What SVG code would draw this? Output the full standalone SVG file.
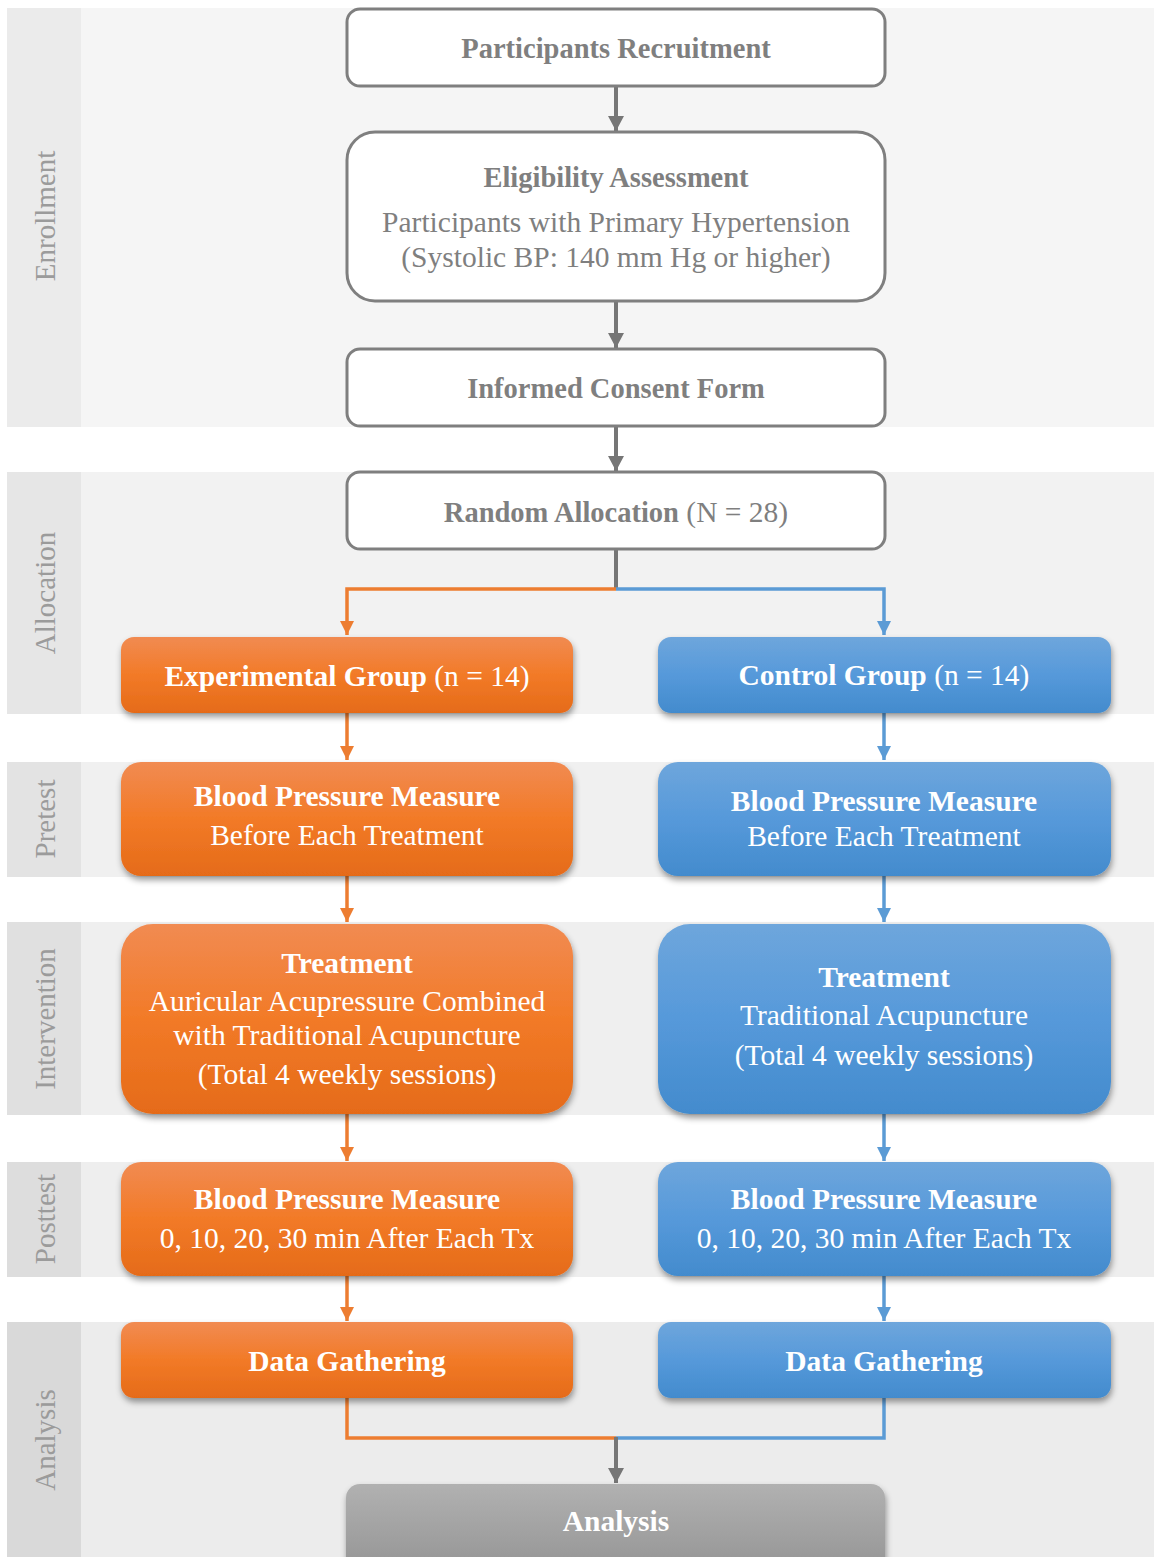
<svg xmlns="http://www.w3.org/2000/svg" width="1154" height="1557" viewBox="0 0 1154 1557">
<defs>
<linearGradient id="gOr" x1="0" y1="0" x2="0" y2="1">
<stop offset="0" stop-color="#F18B52"/><stop offset="0.5" stop-color="#F27A27"/><stop offset="1" stop-color="#E56B19"/>
</linearGradient>
<linearGradient id="gBl" x1="0" y1="0" x2="0" y2="1">
<stop offset="0" stop-color="#6EA6DC"/><stop offset="0.5" stop-color="#5699DA"/><stop offset="1" stop-color="#438BCD"/>
</linearGradient>
<linearGradient id="gGr" x1="0" y1="0" x2="0" y2="1">
<stop offset="0" stop-color="#B1B1B1"/><stop offset="1" stop-color="#949494"/>
</linearGradient>
<filter id="sh" x="-10%" y="-20%" width="120%" height="150%">
<feDropShadow dx="1" dy="4" stdDeviation="3" flood-color="#000" flood-opacity="0.4"/>
</filter>
<marker id="aGr" markerUnits="userSpaceOnUse" markerWidth="18" markerHeight="18" refX="15" refY="8" orient="auto"><path d="M0,0 L15,8 L0,16 Z" fill="#767676"/></marker>
<marker id="aOr" markerUnits="userSpaceOnUse" markerWidth="16" markerHeight="16" refX="14" refY="7" orient="auto"><path d="M0,0 L14,7 L0,14 Z" fill="#ED7D31"/></marker>
<marker id="aBl" markerUnits="userSpaceOnUse" markerWidth="16" markerHeight="16" refX="14" refY="7" orient="auto"><path d="M0,0 L14,7 L0,14 Z" fill="#5B9BD5"/></marker>
</defs>
<style>
text{font-family:"Liberation Serif","Times New Roman",serif;text-anchor:middle}
.lab{font-size:29px;fill:#9b9b9b}
.wb{fill:#fff;stroke:#7f7f7f;stroke-width:3}
.gt{fill:#7f7f7f;font-size:29.5px}
.gtb{fill:#7f7f7f;font-size:28.5px;font-weight:bold}
.wt{fill:#fff;font-size:29.5px}
.b{font-weight:bold}
.cg{fill:none;stroke:#767676;stroke-width:4}
.co{fill:none;stroke:#ED7D31;stroke-width:3.5}
.cb{fill:none;stroke:#5B9BD5;stroke-width:3.5}
</style>
<rect width="1154" height="1557" fill="#fff"/>
<g id="bands">
<rect x="7" y="8" width="74" height="419" fill="#ebebeb"/><rect x="81" y="8" width="1073" height="419" fill="#f5f5f5"/>
<rect x="7" y="472" width="74" height="242" fill="#e6e6e6"/><rect x="81" y="472" width="1073" height="242" fill="#f2f2f2"/>
<rect x="7" y="762" width="74" height="115" fill="#e3e3e3"/><rect x="81" y="762" width="1073" height="115" fill="#f0f0f0"/>
<rect x="7" y="922" width="74" height="193" fill="#e0e0e0"/><rect x="81" y="922" width="1073" height="193" fill="#efefef"/>
<rect x="7" y="1162" width="74" height="115" fill="#dddddd"/><rect x="81" y="1162" width="1073" height="115" fill="#eeeeee"/>
<rect x="7" y="1322" width="74" height="235" fill="#d9d9d9"/><rect x="81" y="1322" width="1073" height="235" fill="#ececec"/>
<text class="lab" x="55" y="216" transform="rotate(-90 55 216)">Enrollment</text>
<text class="lab" x="55" y="593" transform="rotate(-90 55 593)">Allocation</text>
<text class="lab" x="55" y="819" transform="rotate(-90 55 819)">Pretest</text>
<text class="lab" x="55" y="1019" transform="rotate(-90 55 1019)">Intervention</text>
<text class="lab" x="55" y="1219" transform="rotate(-90 55 1219)">Posttest</text>
<text class="lab" x="55" y="1440" transform="rotate(-90 55 1440)">Analysis</text>
</g>
<g id="connectors">
<line class="cg" x1="616" y1="86" x2="616" y2="131" marker-end="url(#aGr)"/>
<line class="cg" x1="616" y1="301" x2="616" y2="348" marker-end="url(#aGr)"/>
<line class="cg" x1="616" y1="426" x2="616" y2="471" marker-end="url(#aGr)"/>
<line class="cg" x1="616" y1="549" x2="616" y2="590"/>
<path class="co" d="M616,589 H347 V635" marker-end="url(#aOr)"/>
<path class="cb" d="M616,589 H884 V635" marker-end="url(#aBl)"/>
<line class="co" x1="347" y1="713" x2="347" y2="760" marker-end="url(#aOr)"/>
<line class="co" x1="347" y1="876" x2="347" y2="922" marker-end="url(#aOr)"/>
<line class="co" x1="347" y1="1114" x2="347" y2="1161" marker-end="url(#aOr)"/>
<line class="co" x1="347" y1="1276" x2="347" y2="1321" marker-end="url(#aOr)"/>
<line class="cb" x1="884" y1="713" x2="884" y2="760" marker-end="url(#aBl)"/>
<line class="cb" x1="884" y1="876" x2="884" y2="922" marker-end="url(#aBl)"/>
<line class="cb" x1="884" y1="1114" x2="884" y2="1161" marker-end="url(#aBl)"/>
<line class="cb" x1="884" y1="1276" x2="884" y2="1321" marker-end="url(#aBl)"/>
<path class="co" d="M347,1398 V1438 H616"/>
<path class="cb" d="M884,1398 V1438 H616"/>
<line class="cg" x1="616" y1="1437" x2="616" y2="1483" marker-end="url(#aGr)"/>
</g>
<g id="recruit"><rect class="wb" x="347" y="9" width="538" height="77" rx="13"/><text class="gtb" x="616" y="58">Participants Recruitment</text></g>
<g id="eligibility"><rect class="wb" x="347" y="132" width="538" height="169" rx="28"/>
<text class="gtb" x="616" y="187">Eligibility Assessment</text>
<text class="gt" x="616" y="232">Participants with Primary Hypertension</text>
<text class="gt" x="616" y="267">(Systolic BP: 140 mm Hg or higher)</text></g>
<g id="consent"><rect class="wb" x="347" y="349" width="538" height="77" rx="13"/><text class="gtb" x="616" y="398">Informed Consent Form</text></g>
<g id="random"><rect class="wb" x="347" y="472" width="538" height="77" rx="13"/><text class="gt" x="616" y="522"><tspan class="b" font-size="28.5">Random Allocation</tspan> (N = 28)</text></g>
<g id="expGroup"><rect x="121" y="637" width="452" height="76" rx="13" fill="url(#gOr)" filter="url(#sh)"/><text class="wt" x="347" y="686"><tspan class="b">Experimental Group</tspan> (n = 14)</text></g>
<g id="ctrlGroup"><rect x="658" y="637" width="453" height="76" rx="13" fill="url(#gBl)" filter="url(#sh)"/><text class="wt" x="884" y="685"><tspan class="b">Control Group</tspan> (n = 14)</text></g>
<g id="expPre"><rect x="121" y="762" width="452" height="114" rx="20" fill="url(#gOr)" filter="url(#sh)"/>
<text class="wt b" x="347" y="806">Blood Pressure Measure</text><text class="wt" x="347" y="845">Before Each Treatment</text></g>
<g id="ctrlPre"><rect x="658" y="762" width="453" height="114" rx="20" fill="url(#gBl)" filter="url(#sh)"/>
<text class="wt b" x="884" y="811">Blood Pressure Measure</text><text class="wt" x="884" y="846">Before Each Treatment</text></g>
<g id="expTx"><rect x="121" y="924" width="452" height="190" rx="32" fill="url(#gOr)" filter="url(#sh)"/>
<text class="wt b" x="347" y="973">Treatment</text>
<text class="wt" x="347" y="1011">Auricular Acupressure Combined</text>
<text class="wt" x="347" y="1045">with Traditional Acupuncture</text>
<text class="wt" x="347" y="1084">(Total 4 weekly sessions)</text></g>
<g id="ctrlTx"><rect x="658" y="924" width="453" height="190" rx="32" fill="url(#gBl)" filter="url(#sh)"/>
<text class="wt b" x="884" y="987">Treatment</text>
<text class="wt" x="884" y="1025">Traditional Acupuncture</text>
<text class="wt" x="884" y="1065">(Total 4 weekly sessions)</text></g>
<g id="expPost"><rect x="121" y="1162" width="452" height="114" rx="20" fill="url(#gOr)" filter="url(#sh)"/>
<text class="wt b" x="347" y="1209">Blood Pressure Measure</text><text class="wt" x="347" y="1248">0, 10, 20, 30 min After Each Tx</text></g>
<g id="ctrlPost"><rect x="658" y="1162" width="453" height="114" rx="20" fill="url(#gBl)" filter="url(#sh)"/>
<text class="wt b" x="884" y="1209">Blood Pressure Measure</text><text class="wt" x="884" y="1248">0, 10, 20, 30 min After Each Tx</text></g>
<g id="expData"><rect x="121" y="1322" width="452" height="76" rx="13" fill="url(#gOr)" filter="url(#sh)"/><text class="wt b" x="347" y="1371">Data Gathering</text></g>
<g id="ctrlData"><rect x="658" y="1322" width="453" height="76" rx="13" fill="url(#gBl)" filter="url(#sh)"/><text class="wt b" x="884" y="1371">Data Gathering</text></g>
<g id="analysis"><rect x="346" y="1484" width="539" height="90" rx="14" fill="url(#gGr)" filter="url(#sh)"/><text class="wt b" x="616" y="1531">Analysis</text></g>
</svg>
